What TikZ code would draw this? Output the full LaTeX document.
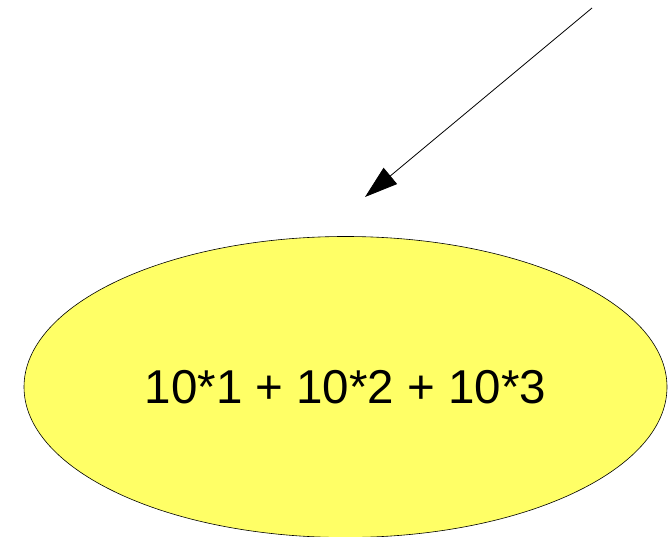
\documentclass[tikz,border=0pt]{standalone}
\usepackage{fontspec}
\setmainfont{Liberation Sans}
\usetikzlibrary{arrows.meta,shapes.geometric}
\definecolor{ellfill}{RGB}{255,255,102}
\tikzset{
  bubble/.style={ellipse,draw=black,line width=0.6pt,fill=ellfill,minimum width=643pt,minimum height=301pt,inner sep=0pt,font=\fontsize{47.5}{57}\selectfont},
  conn/.style={line width=0.8pt,-{Triangle[length=33pt,width=21pt]}}
}
\begin{document}
\begin{tikzpicture}[x=1pt,y=-1pt]
\useasboundingbox (0,0) rectangle (671,537);
\node[bubble] (e) at (345.5,387) {10*1 + 10*2 + 10*3};
\coordinate (s) at (592,8);
\coordinate (t) at (365,197);
\draw[conn] (s) -- (t);
\end{tikzpicture}
\end{document}
